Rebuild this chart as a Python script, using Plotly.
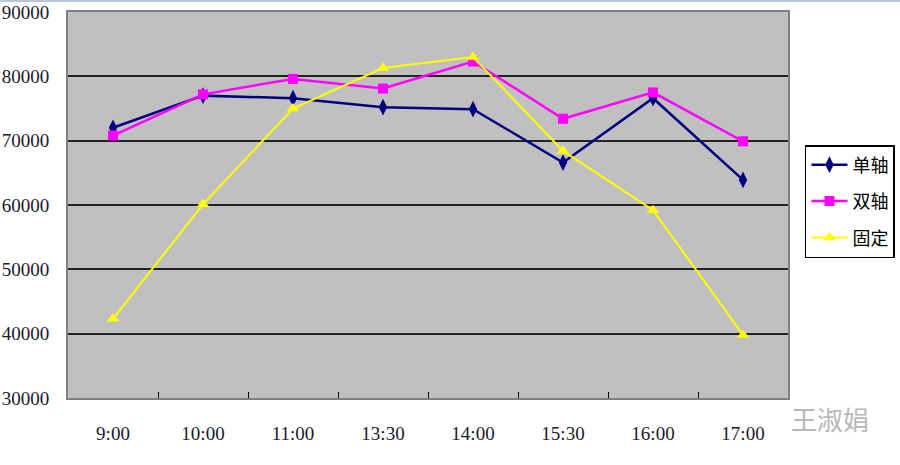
import plotly.graph_objects as go

categories = ["9:00", "10:00", "11:00", "13:30", "14:00", "15:30", "16:00", "17:00"]
single_axis = [72000, 77000, 76600, 75200, 74900, 66600, 76600, 63900]
dual_axis = [70800, 77200, 79600, 78100, 82300, 73400, 77500, 69900]
fixed = [42300, 60100, 75000, 81300, 83000, 68400, 59200, 39800]
y_ticks = [30000, 40000, 50000, 60000, 70000, 80000, 90000]

fig = go.Figure()
fig.add_trace(go.Scatter(x=categories, y=single_axis, name="单轴", mode="lines+markers",
                         legendgroup="a",
                         line=dict(color="#000080", width=2.5),
                         marker=dict(symbol="diamond-tall", size=12, color="#000080")))
fig.add_trace(go.Scatter(x=categories, y=dual_axis, name="双轴", mode="lines+markers",
                         legendgroup="b",
                         line=dict(color="#FF00FF", width=2.5),
                         marker=dict(symbol="square", size=10, color="#FF00FF")))
fig.add_trace(go.Scatter(x=categories, y=fixed, name="固定", mode="lines+markers",
                         legendgroup="c",
                         line=dict(color="#FFFF00", width=2),
                         marker=dict(symbol="triangle-up", size=11, color="#FFFF00")))

fig.update_layout(
    width=900, height=465,
    margin=dict(l=68, r=112, t=12, b=67, autoexpand=False),
    plot_bgcolor="#C0C0C0",
    paper_bgcolor="white",
    font=dict(family="Liberation Serif, serif", size=19, color="#1a1a2e"),
    showlegend=True,
    legend=dict(x=1.0236, y=0.6554, xanchor="left", yanchor="top",
                bordercolor="black", borderwidth=1.5, bgcolor="white",
                font=dict(family="Noto Sans CJK SC", size=18, color="black"),
                tracegroupgap=10, itemwidth=36),
    xaxis=dict(type="category", tickson="boundaries", ticks="inside", ticklen=6,
               tickcolor="black", showline=True, linecolor="#808080", linewidth=2,
               mirror=True, showgrid=False, range=[-0.5, 7.5], automargin=False,
               ticklabelstandoff=17),
    yaxis=dict(range=[30000, 90000], tickvals=y_ticks, ticktext=[str(v) for v in y_ticks],
               showgrid=True, gridcolor="#222222", gridwidth=2, ticks="",
               showline=True, linecolor="#808080", linewidth=2, mirror=True,
               zeroline=False, ticklabelstandoff=13, automargin=False),
    shapes=[dict(type="line", xref="paper", yref="paper", x0=-0.1, x1=1.2,
                 y0=1 + 11 / 386, y1=1 + 11 / 386,
                 line=dict(color="#B8C8DC", width=2))],
    annotations=[dict(text="王淑娟", x=(830 - 68) / 720, y=(398 - 418) / 386,
                      xref="paper", yref="paper",
                      showarrow=False, font=dict(family="Noto Sans CJK SC", size=26, color="#B8B8B8"),
                      xanchor="center", yanchor="middle")],
)

fig.write_html("out.html", config={"displayModeBar": False},
               post_script="document.body.style.margin='0';")
